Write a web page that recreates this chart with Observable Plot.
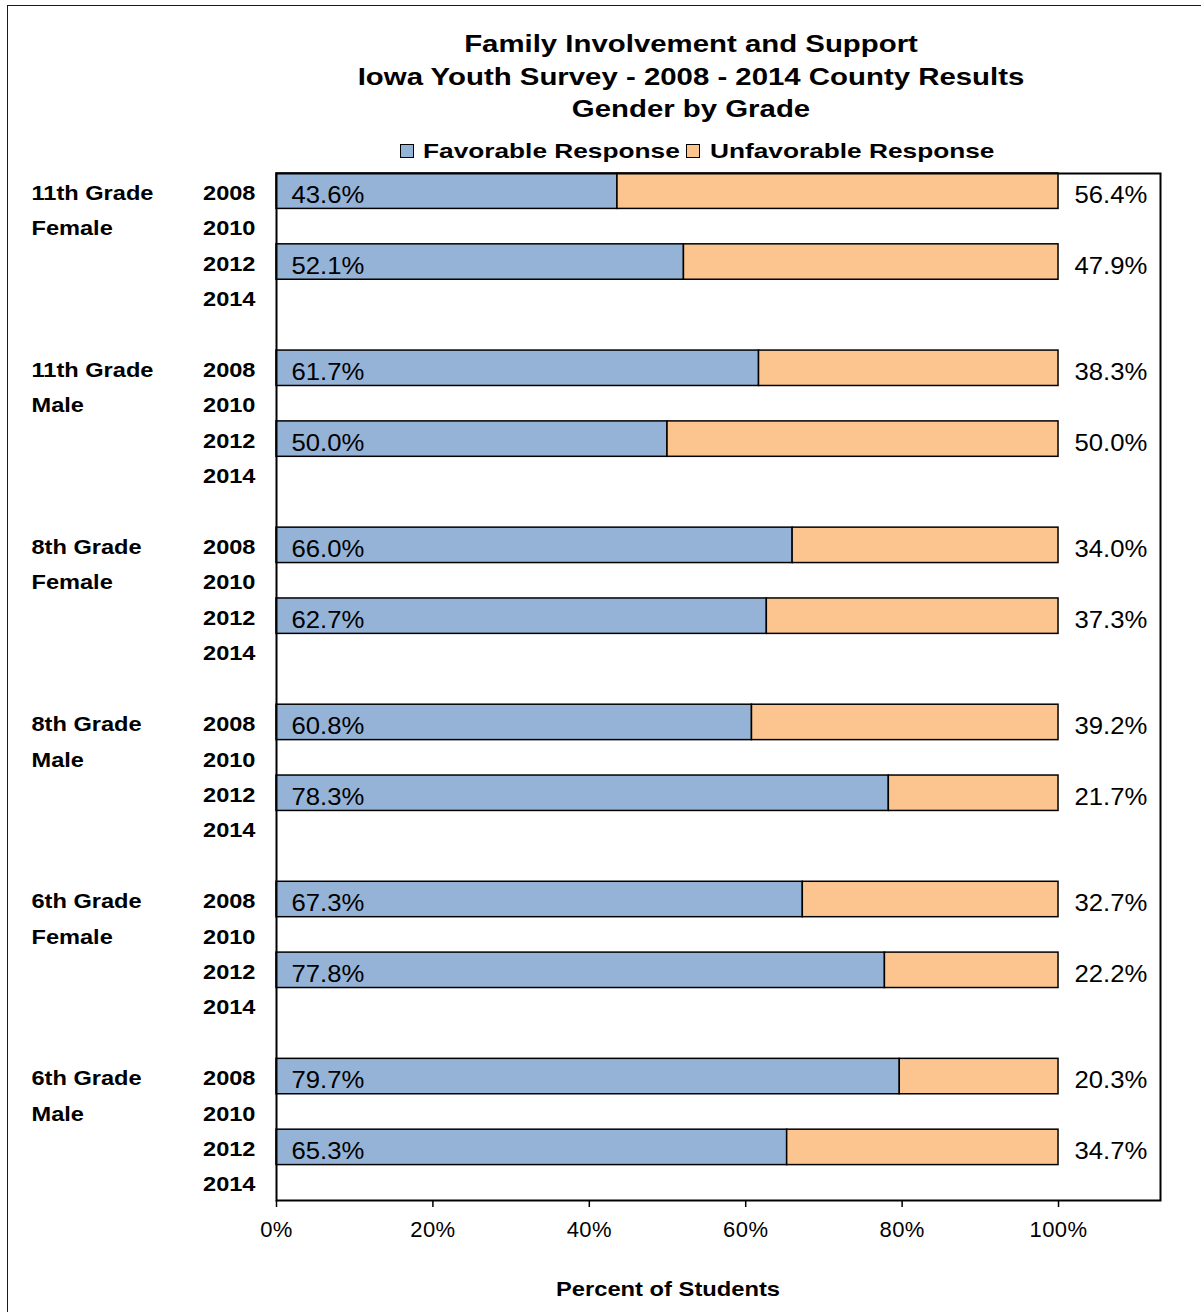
<!DOCTYPE html>
<html>
<head>
<meta charset="utf-8">
<script src="https://cdn.jsdelivr.net/npm/d3@7"></script>
<script src="https://cdn.jsdelivr.net/npm/@observablehq/plot@0.6"></script>
<style>
  html, body { margin:0; padding:0; background:#fff; }
  body { width:1201px; height:1312px; overflow:hidden; position:relative; font-family:"Liberation Sans", Arial, sans-serif; color:#000; }
  #frame { position:absolute; left:7px; top:5px; width:1400px; height:1500px; border:1.5px solid #1a1a1a; }
  #chart { position:absolute; left:0; top:0; }
  .title { position:absolute; left:191px; width:1000px; text-align:center; font-weight:bold; font-size:23.5px; line-height:24px; white-space:pre; transform:scaleX(1.25); transform-origin:500px 50%; }
  .lgtext { position:absolute; top:140px; font-weight:bold; font-size:21px; line-height:22px; white-space:pre; transform:scaleX(1.25); transform-origin:0 50%; }
  .sw { position:absolute; top:144px; width:12px; height:12px; border:1px solid #000; }
  #xlabel { position:absolute; left:368px; width:600px; top:1278px; text-align:center; font-weight:bold; font-size:21px; line-height:21px; white-space:pre; transform:scaleX(1.13); transform-origin:300px 50%; }
</style>
</head>
<body>
<div id="frame"></div>
<div id="chart"></div>
<div id="t1" class="title"></div>
<div id="t2" class="title"></div>
<div id="t3" class="title"></div>
<div id="sw1" class="sw" style="left:400px"></div>
<div id="lg1" class="lgtext" style="left:423px"></div>
<div id="sw2" class="sw" style="left:686px"></div>
<div id="lg2" class="lgtext" style="left:710px"></div>
<div id="xlabel"></div>
<script>
// ---- data ----
const titleLines = ["Family Involvement and Support", "Iowa Youth Survey - 2008 - 2014 County Results", "Gender by Grade"];
const seriesNames = ["Favorable Response", "Unfavorable Response"];
const seriesColors = ["#95B3D7", "#FCC58F"];
const grades = ["11th Grade", "11th Grade", "8th Grade", "8th Grade", "6th Grade", "6th Grade"];
const genders = ["Female", "Male", "Female", "Male", "Female", "Male"];
const years = ["2008", "2010", "2012", "2014"];
const favorable2008 = [43.6, 61.7, 66.0, 60.8, 67.3, 79.7];
const unfavorable2008 = [56.4, 38.3, 34.0, 39.2, 32.7, 20.3];
const favorable2012 = [52.1, 50.0, 62.7, 78.3, 77.8, 65.3];
const unfavorable2012 = [47.9, 50.0, 37.3, 21.7, 22.2, 34.7];
const xTicks = [0, 20, 40, 60, 80, 100];
const xAxisLabel = "Percent of Students";

// ---- build rows ----
const keys = [];
const yearRows = [];
const groupLabelRows = [];
grades.forEach((g, i) => {
  years.forEach((yr, j) => {
    const key = `${i}-${yr}`;
    keys.push(key);
    yearRows.push({key, label: yr});
    if (j === 0) groupLabelRows.push({key, label: g});
    if (j === 1) groupLabelRows.push({key, label: genders[i]});
  });
  if (i < grades.length - 1) keys.push(`${i}-gap`);
});
const bars = [];
grades.forEach((g, i) => {
  bars.push({key: `${i}-2008`, fav: favorable2008[i], unfav: unfavorable2008[i]});
  bars.push({key: `${i}-2012`, fav: favorable2012[i], unfav: unfavorable2012[i]});
});

const chart = Plot.plot({
  width: 1201,
  height: 1312,
  marginLeft: 276,
  marginRight: 41,
  marginTop: 173,
  marginBottom: 112,
  style: {fontFamily: '"Liberation Sans", Arial, sans-serif', background: "transparent", color: "#000"},
  x: {domain: [0, 113.04], axis: null},
  y: {domain: keys, padding: 0, round: false, axis: null},
  marks: [
    Plot.barX(bars, {y: "key", x1: 0, x2: "fav", fill: seriesColors[0], stroke: "#000", strokeWidth: 1.5}),
    Plot.barX(bars, {y: "key", x1: "fav", x2: d => d.fav + d.unfav, fill: seriesColors[1], stroke: "#000", strokeWidth: 1.5}),
    Plot.frame({stroke: "#000", strokeWidth: 2}),
    Plot.text(bars, {y: "key", x: 0, text: d => d.fav.toFixed(1) + "%", textAnchor: "start", dx: 15, dy: 4, fontSize: 24, fill: "#000", ariaDescription: "vals"}),
    Plot.text(bars, {y: "key", x: d => d.fav + d.unfav, text: d => d.unfav.toFixed(1) + "%", textAnchor: "start", dx: 16, dy: 4, fontSize: 24, fill: "#000", ariaDescription: "vals"}),
    Plot.text(yearRows, {y: "key", text: "label", frameAnchor: "left", textAnchor: "end", dx: -21, dy: 2.3, fontSize: 20, fontWeight: "bold", fill: "#000", ariaDescription: "ylabels"}),
    Plot.text(groupLabelRows, {y: "key", text: "label", frameAnchor: "left", textAnchor: "start", dx: -245, dy: 2.3, fontSize: 20, fontWeight: "bold", fill: "#000", ariaDescription: "ylabels"}),
    Plot.axisX({ticks: xTicks, tickFormat: d => d + "%", tickSize: 7, tickPadding: 14, fontSize: 22, label: null, stroke: "#000", strokeWidth: 1.5, color: "#000", fill: "#000"})
  ]
});
document.getElementById("chart").appendChild(chart);
const svg = d3.select(chart);

// horizontal stretch of text glyphs around their anchor point
function stretch(sel, s) {
  sel.each(function() {
    const t = this.getAttribute("transform") || "";
    const x = this.getAttribute("x");
    if (x !== null && x !== "" && !isNaN(+x)) {
      this.setAttribute("transform", `${t} translate(${+x},0) scale(${s},1)`);
      this.removeAttribute("x");
    } else {
      this.setAttribute("transform", `${t} scale(${s},1)`);
    }
  });
}
stretch(svg.selectAll('g[aria-description="ylabels"] text'), 1.18);
stretch(svg.selectAll('g[aria-description="vals"] text'), 1.07);
svg.selectAll('g[aria-label="x-axis tick label"] text').style("letter-spacing", "0.4px");

// titles
const tops = [32, 65, 97];
titleLines.forEach((t, i) => {
  const el = document.getElementById("t" + (i + 1));
  el.textContent = t;
  el.style.top = tops[i] + "px";
});
// legend
seriesNames.forEach((name, i) => {
  document.getElementById("sw" + (i + 1)).style.background = seriesColors[i];
  document.getElementById("lg" + (i + 1)).textContent = name;
});
document.getElementById("xlabel").textContent = xAxisLabel;
</script>
</body>
</html>
